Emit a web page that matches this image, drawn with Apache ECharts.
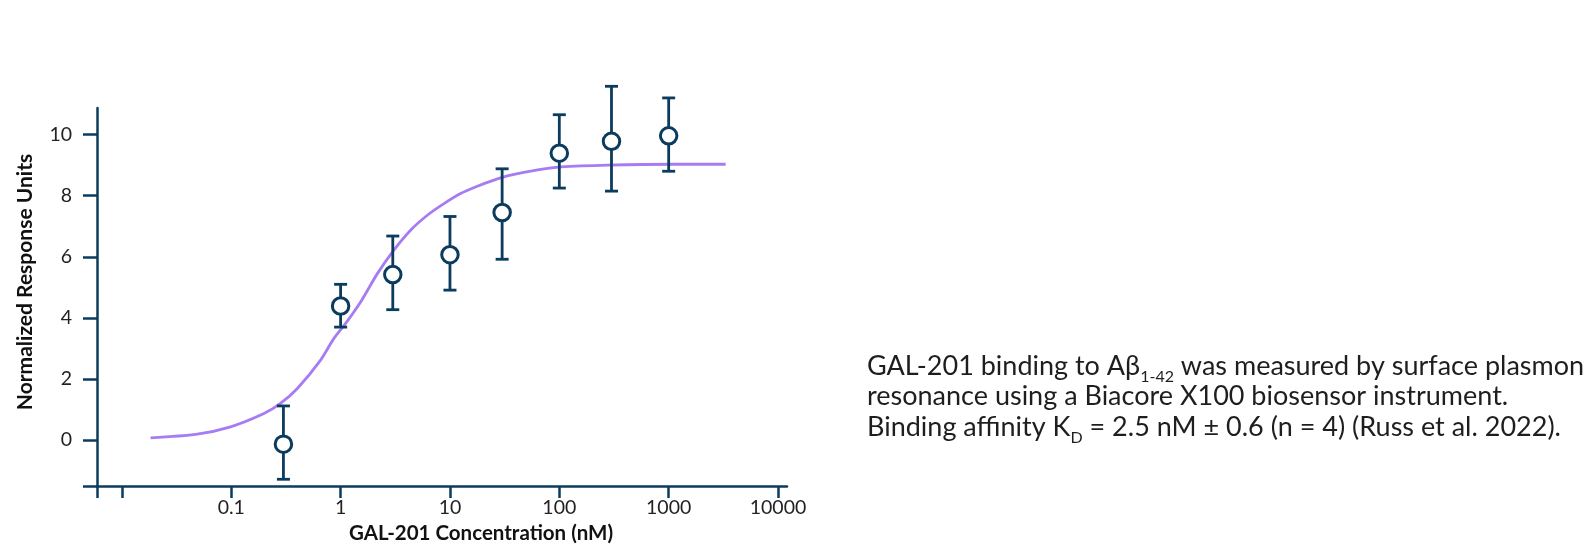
<!DOCTYPE html>
<html>
<head>
<meta charset="utf-8">
<script src="https://cdn.jsdelivr.net/npm/echarts@6/dist/echarts.min.js"></script>
<style>
  html, body { margin: 0; padding: 0; background: #ffffff; }
  #chart { width: 1589px; height: 549px; }
</style>
</head>
<body>
<div id="chart"></div>
<script>
// ---- data ----
const concentrations = [0.3, 1, 3, 10, 30, 100, 300, 1000];           // nM
const meanResponse   = [-0.13, 4.39, 5.42, 6.07, 7.45, 9.39, 9.78, 9.96];
const errLow         = [-1.28, 3.70, 4.27, 4.91, 5.92, 8.25, 8.15, 8.80];
const errHigh        = [1.12, 5.10, 6.68, 7.32, 8.88, 10.65, 11.58, 11.20];

// fitted binding curve
const fitConc  = [0.0183, 0.0489, 0.0986, 0.199, 0.282, 0.402, 0.656, 0.869, 1.112, 1.524, 2.168, 3.069, 4.365, 6.209, 8.81, 12.5, 17.78, 25.23, 35.89, 67.45, 102.8, 274.8, 1117, 3319];
const fitValue = [0.075, 0.196, 0.435, 0.87, 1.20, 1.69, 2.62, 3.33, 3.82, 4.52, 5.45, 6.22, 6.87, 7.36, 7.74, 8.07, 8.31, 8.51, 8.67, 8.86, 8.94, 9.00, 9.03, 9.03];

const xTickLabels = [0.1, 1, 10, 100, 1000, 10000];
const yTickLabels = [0, 2, 4, 6, 8, 10];

const xMinConc = 0.00592;
const xMaxConc = 12080;
const yMin = -1.5;
const yMax = 10.87;

// ---- build ----
const NAVY = '#0b3c5d';
const PURPLE = '#a77cf2';
const lg = v => Math.log10(v);
const xMin = lg(xMinConc), xMax = lg(xMaxConc);

const pointData = concentrations.map((c, i) => [lg(c), meanResponse[i]]);
const barData = concentrations.map((c, i) => [lg(c), errLow[i], errHigh[i]]);
const fitData = fitConc.map((c, i) => [lg(c), fitValue[i]]);

const chart = echarts.init(document.getElementById('chart'), null, { renderer: 'canvas' });

const fmtConc = v => {
  const n = Math.pow(10, v);
  return n < 1 ? String(Math.round(n * 1000) / 1000) : String(Math.round(n));
};

chart.setOption({
  backgroundColor: '#ffffff',
  animation: false,
  grid: { left: 97, top: 108, width: 690, height: 378, containLabel: false },
  xAxis: {
    type: 'value',
    min: xMin, max: xMax,
    name: 'GAL-201 Concentration (nM)',
    nameLocation: 'middle',
    nameGap: 37,
    nameTextStyle: { fontFamily: 'Lato', fontWeight: 'bold', fontSize: 20.5, color: '#111', padding: [0, 0, 0, 78] },
    axisLine: { onZero: false, lineStyle: { color: NAVY, width: 2.5 } },
    axisTick: { length: 12, lineStyle: { color: NAVY, width: 2.5 }, customValues: [xMin, -2, -1, 0, 1, 2, 3, 4] },
    axisLabel: { customValues: xTickLabels.map(lg), formatter: fmtConc, margin: 12, fontFamily: 'Lato', fontSize: 19.5, color: '#222' },
    splitLine: { show: false }
  },
  yAxis: {
    type: 'value',
    min: yMin, max: yMax,
    name: 'Normalized Response Units',
    nameLocation: 'middle',
    nameGap: 61,
    nameTextStyle: { fontFamily: 'Lato', fontWeight: 'bold', fontSize: 21, color: '#111', padding: [0, 0, 0, 30] },
    axisLine: { onZero: false, lineStyle: { color: NAVY, width: 2.5 } },
    axisTick: { length: 14, lineStyle: { color: NAVY, width: 2.5 }, customValues: [yMin].concat(yTickLabels) },
    axisLabel: { customValues: yTickLabels, margin: 25, fontFamily: 'Lato', fontSize: 19.5, color: '#222' },
    splitLine: { show: false }
  },
  series: [
    {
      type: 'line',
      data: fitData,
      smooth: 0.3,
      showSymbol: false,
      symbol: 'none',
      lineStyle: { color: PURPLE, width: 2.8 },
      z: 1
    },
    {
      type: 'custom',
      data: barData,
      clip: false,
      z: 2,
      renderItem: function (params, api) {
        const x = api.value(0);
        const lo = api.coord([x, api.value(1)]);
        const hi = api.coord([x, api.value(2)]);
        const w = 6.5;
        const st = { stroke: NAVY, lineWidth: 2.8 };
        return {
          type: 'group',
          children: [
            { type: 'line', shape: { x1: lo[0], y1: lo[1], x2: hi[0], y2: hi[1] }, style: st },
            { type: 'line', shape: { x1: lo[0] - w, y1: lo[1], x2: lo[0] + w, y2: lo[1] }, style: st },
            { type: 'line', shape: { x1: hi[0] - w, y1: hi[1], x2: hi[0] + w, y2: hi[1] }, style: st }
          ]
        };
      }
    },
    {
      type: 'scatter',
      data: pointData,
      symbol: 'circle',
      symbolSize: 16.5,
      clip: false,
      itemStyle: { color: '#ffffff', borderColor: NAVY, borderWidth: 3, opacity: 1 },
      z: 3
    }
  ],
  graphic: [
    {
      type: 'text',
      left: 867,
      top: 347,
      style: {
        text: '{m|GAL-201 binding to Aβ}{s|1-42}{m| was measured by surface plasmon}\n' +
              '{m|resonance using a Biacore X100 biosensor instrument.}\n' +
              '{m|Binding affinity K}{s|D}{m| = 2.5 nM ± 0.6 (n = 4) (Russ et al. 2022).}',
        rich: {
          m: { fontFamily: 'Lato', fontSize: 27, lineHeight: 30.4, fill: '#1e1e1e' },
          s: { fontFamily: 'Lato', fontSize: 16, lineHeight: 8, padding: [22, 0, 0, 0], fill: '#1e1e1e' }
        }
      }
    }
  ]
});
</script>
</body>
</html>
